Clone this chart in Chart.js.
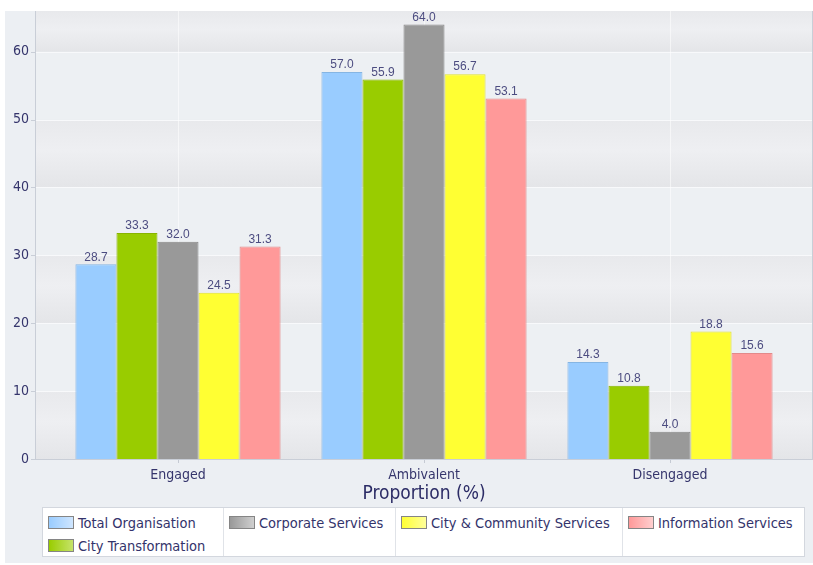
<!DOCTYPE html>
<html><head><meta charset="utf-8">
<script src="https://cdn.jsdelivr.net/npm/chart.js@4"></script>
<style>
html,body{margin:0;padding:0;background:#fff;}
#wrap{position:relative;width:813px;height:565px;overflow:hidden;}
canvas{position:absolute;left:0;top:0;}
#legend{position:absolute;left:42px;top:507px;width:761px;height:48px;background:#fff;border:1px solid #d3d7de;display:flex;font-family:"DejaVu Sans Condensed","DejaVu Sans",sans-serif;font-size:14.5px;color:#33336b;}
.col{box-sizing:border-box;border-left:1px solid #e0e3e8;padding:3px 0 0 5px;}
.col:first-child{border-left:none;}
.item{display:flex;align-items:center;height:23px;white-space:nowrap;}
.sw{width:24px;height:11px;border:1px solid #858585;margin-right:4px;flex:none;}
</style></head>
<body>
<div id="wrap">
<canvas id="c" width="813" height="565"></canvas>
<div id="legend"></div>
</div>
<script>
const categories = ['Engaged', 'Ambivalent', 'Disengaged'];
const seriesNames = ['Total Organisation', 'City Transformation', 'Corporate Services', 'City & Community Services', 'Information Services'];
const totalOrganisation = [28.7, 57.0, 14.3];
const cityTransformation = [33.3, 55.9, 10.8];
const corporateServices = [32.0, 64.0, 4.0];
const cityCommunityServices = [24.5, 56.7, 18.8];
const informationServices = [31.3, 53.1, 15.6];
const yTickValues = [0, 10, 20, 30, 40, 50, 60];
const axisTitle = 'Proportion (%)';

const seriesValues = [totalOrganisation, cityTransformation, corporateServices, cityCommunityServices, informationServices];
const fillColors = ['#99ccff', '#99cc00', '#999999', '#ffff33', '#ff9999'];
const borderColors = ['#85b5e3', '#88b400', '#878787', '#e2e22a', '#e38a8a'];
const swatchLight = ['#cfe6ff', '#c6e36a', '#cfcfcf', '#ffff9a', '#ffcfcf'];
const FONT = '"DejaVu Sans Condensed", "DejaVu Sans", sans-serif';
const TXT = '#35356c';

const bgPlugin = {
  id: 'bg',
  beforeDraw(chart) {
    const ctx = chart.ctx, ca = chart.chartArea, y = chart.scales.y;
    const W = chart.width, H = chart.height;
    ctx.save();
    ctx.fillStyle = '#ffffff'; ctx.fillRect(0, 0, W, H);
    ctx.fillStyle = '#eceff3'; ctx.fillRect(5, 11, W - 5, H - 13);
    const L = ca.left - 20, R = ca.right + 19;
    const maxV = y.max;
    for (let v = 0; v < maxV; v += 10) {
      const top = y.getPixelForValue(Math.min(v + 10, maxV));
      const bot = y.getPixelForValue(v);
      if ((v / 10) % 2 === 0) {
        const g = ctx.createLinearGradient(0, top, 0, bot);
        g.addColorStop(0, '#e8e9ec');
        g.addColorStop(0.45, '#eeeff2');
        g.addColorStop(1, '#e4e5e8');
        ctx.fillStyle = g;
      } else {
        ctx.fillStyle = '#edf0f3';
      }
      ctx.fillRect(L, top, R - L, bot - top);
    }
    ctx.strokeStyle = '#f8f9fb'; ctx.lineWidth = 1;
    yTickValues.forEach(v => {
      if (v === 0) return;
      const p = Math.round(y.getPixelForValue(v)) + 0.5;
      ctx.beginPath(); ctx.moveTo(L, p); ctx.lineTo(R, p); ctx.stroke();
    });
    ctx.restore();
  },
  afterDraw(chart) {
    const ctx = chart.ctx, ca = chart.chartArea, y = chart.scales.y;
    const L = ca.left - 20, R = ca.right + 19;
    ctx.save();
    ctx.strokeStyle = '#c9ced7'; ctx.lineWidth = 1;
    ctx.beginPath(); ctx.moveTo(L + 0.5, ca.top); ctx.lineTo(L + 0.5, ca.bottom); ctx.stroke();
    ctx.beginPath(); ctx.moveTo(R + 0.5, ca.top); ctx.lineTo(R + 0.5, ca.bottom); ctx.stroke();
    ctx.beginPath(); ctx.moveTo(L, Math.round(ca.bottom) + 0.5); ctx.lineTo(R + 1, Math.round(ca.bottom) + 0.5); ctx.stroke();
    yTickValues.forEach(v => {
      const p = Math.round(y.getPixelForValue(v)) + 0.5;
      ctx.beginPath(); ctx.moveTo(L - 4, p); ctx.lineTo(L, p); ctx.stroke();
    });
    ctx.restore();
  }
};

const labelPlugin = {
  id: 'vals',
  afterDatasetsDraw(chart) {
    const ctx = chart.ctx;
    ctx.save();
    ctx.font = '12px "Liberation Sans", Arial, sans-serif';
    ctx.fillStyle = '#4c4c80';
    ctx.textAlign = 'center';
    ctx.textBaseline = 'bottom';
    chart.data.datasets.forEach((ds, i) => {
      chart.getDatasetMeta(i).data.forEach((bar, j) => {
        ctx.fillText(ds.data[j].toFixed(1), bar.x, bar.y - 1);
      });
    });
    ctx.restore();
  }
};

const chart = new Chart(document.getElementById('c'), {
  type: 'bar',
  data: {
    labels: categories,
    datasets: seriesNames.map((n, i) => ({
      label: n,
      data: seriesValues[i],
      backgroundColor: fillColors[i],
      borderColor: borderColors[i],
      borderWidth: 1,
      categoryPercentage: 0.834,
      barPercentage: 1
    }))
  },
  options: {
    responsive: false,
    animation: false,
    layout: { padding: { left: 0, right: 20, top: 11, bottom: 0 } },
    plugins: { legend: { display: false }, tooltip: { enabled: false } },
    scales: {
      x: {
        grid: { offset: false, color: 'rgba(255,255,255,0.55)', drawTicks: true, tickLength: 4, tickColor: '#c5cad3' },
        border: { display: false },
        ticks: { padding: 4, color: TXT, font: { family: FONT, size: 14 } },
        title: { display: true, text: axisTitle, color: '#2c2c66', font: { family: FONT, size: 19 }, padding: { top: 0, bottom: 60 } },
        afterFit: s => { s.height = 106; s.paddingLeft = 0; s.paddingRight = 0; }
      },
      y: {
        min: 0, max: 66,
        afterBuildTicks: s => { s.ticks = yTickValues.map(v => ({ value: v })); },
        grid: { display: false, drawTicks: false },
        border: { display: false },
        ticks: { padding: 26, color: TXT, font: { family: FONT, size: 14 } },
        afterFit: s => { s.width = 55; s.paddingTop = 0; s.paddingBottom = 0; }
      }
    }
  },
  plugins: [bgPlugin, labelPlugin]
});

// HTML legend, laid out in columns like the reference
const legendCols = [[0, 1], [2], [3], [4]];
const colWidths = [180, 172, 227, 182];
const leg = document.getElementById('legend');
legendCols.forEach((col, ci) => {
  const c = document.createElement('div');
  c.className = 'col';
  c.style.width = colWidths[ci] + 'px';
  col.forEach(i => {
    const it = document.createElement('div');
    it.className = 'item';
    const sw = document.createElement('span');
    sw.className = 'sw';
    sw.style.background = 'linear-gradient(to right,' + fillColors[i] + ',' + swatchLight[i] + ')';
    const t = document.createElement('span');
    t.textContent = chart.data.datasets[i].label;
    it.appendChild(sw); it.appendChild(t);
    c.appendChild(it);
  });
  leg.appendChild(c);
});
</script>
</body></html>
